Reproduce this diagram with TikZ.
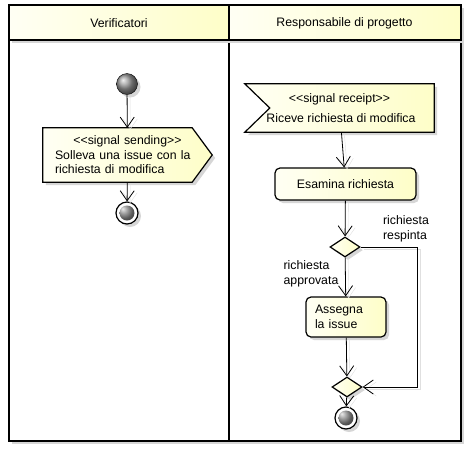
\documentclass[tikz,border=0pt]{standalone}
\usepackage{fontspec}
\setmainfont{Liberation Sans}
\usepackage{tikz}
\usetikzlibrary{positioning,arrows.meta,calc,shapes.geometric,shadows,backgrounds}
\definecolor{uyellow}{RGB}{254,254,200}
\newcommand{\stereo}[1]{<\kern0pt<#1>\kern0pt>}

\begin{document}
\begin{tikzpicture}[
    x=1pt, y=-1pt,
    font=\fontsize{12.3}{14.5}\selectfont,
    >={Straight Barb[length=10pt,width=14pt]},
    ushadow/.style={drop shadow={shadow xshift=3pt, shadow yshift=-3pt, fill=black!16, opacity=1}},
    ufill/.style={left color=uyellow!20, right color=uyellow},
    action/.style={rectangle, rounded corners=5pt, draw, line width=1.2pt, ufill, ushadow,
                   minimum height=32pt, inner sep=0pt},
    decision/.style={diamond, draw, line width=1.2pt, ufill, ushadow,
                     minimum width=30pt, minimum height=20pt, inner sep=0pt},
    initial/.style={circle, minimum size=21pt, inner sep=0pt, draw, ball color=black!40, ushadow},
    final/.style={circle, minimum size=22pt, inner sep=0pt, draw, line width=1.2pt, fill=white, ushadow,
                  path picture={\shade[ball color=black!50] (path picture bounding box.center) circle (7.5pt);}},
    sigbox/.style={rectangle, inner sep=0pt},
    sigline/.style={draw, line width=1.2pt, ufill, ushadow},
    lane/.style={draw, line width=1.6pt, fill=white, ushadow},
    lbl/.style={align=left, inner sep=0pt},
    arr/.style={->, line width=0.8pt, preaction={draw=black!12, transform canvas={shift={(3pt,-2pt)}}}},
]
\useasboundingbox (0,0) rectangle (469,448);

% ---------- swimlanes ----------
\begin{scope}[on background layer]
  \draw[lane] (9,40) rectangle (229,441);
  \draw[lane] (229,40) rectangle (461,441);
  \draw[lane, ufill] (9,5) rectangle (229,40);
  \draw[lane, ufill] (229,5) rectangle (461,40);
\end{scope}
\node (hdver)  at (119,23)   {Verificatori};
\node (hdresp) at (344.5,23) {Responsabile di progetto};

% ---------- Verificatori ----------
\node[initial] (start) at (127,84) {};
\node[sigbox, minimum width=169pt, minimum height=54pt, text width=145pt, inner xsep=12pt, align=left]
  (send) at (127.5,155) {{\centering\stereo{signal sending}\par}Solleva una issue con la\\richiesta di modifica};
\node[final] (stopL) at (127,213) {};

\draw[arr] (start) -- (send);
\draw[arr] (send) -- (stopL);

% ---------- Responsabile di progetto ----------
\node[sigbox, minimum width=189pt, minimum height=48pt, align=center]
  (recv) at (339.5,108) {\stereo{signal receipt}\\[5.5pt]\hspace*{3pt}Riceve richiesta di modifica};
\node[action, minimum width=141pt] (exam) at (345.5,184) {Esamina richiesta};
\node[decision] (dec) at (345,247) {};
\node[action, minimum width=80pt, minimum height=40pt, text width=62pt, inner xsep=9pt, align=left]
  (assign) at (346,317) {Assegna\\la issue};
\node[decision] (merge) at (347,387) {};
\node[final] (stopR) at (346,418) {};

\node[lbl] (lblno)  at (406,229) {richiesta\\respinta};
\node[lbl] (lblyes) at (311,274) {richiesta\\approvata};

\draw[arr] (recv) -- (exam);
\draw[arr] (exam) -- (dec);
\draw[arr] (dec) -- (assign);
\draw[arr] (assign) -- (merge);
\draw[arr] (dec.east) -- ++(57,0) |- (merge.east);
\draw[arr] (merge) -- (stopR);

% signal outlines behind their texts
\begin{scope}[on background layer]
  \path[sigline] (send.north west) -- ($(send.north east)+(-20,0)$) -- (send.east)
    -- ($(send.south east)+(-20,0)$) -- (send.south west) -- cycle;
  \path[sigline] (recv.north west) -- (recv.north east) -- (recv.south east)
    -- (recv.south west) -- ($(recv.west)+(25,0)$) -- cycle;
\end{scope}

\end{tikzpicture}
\end{document}
